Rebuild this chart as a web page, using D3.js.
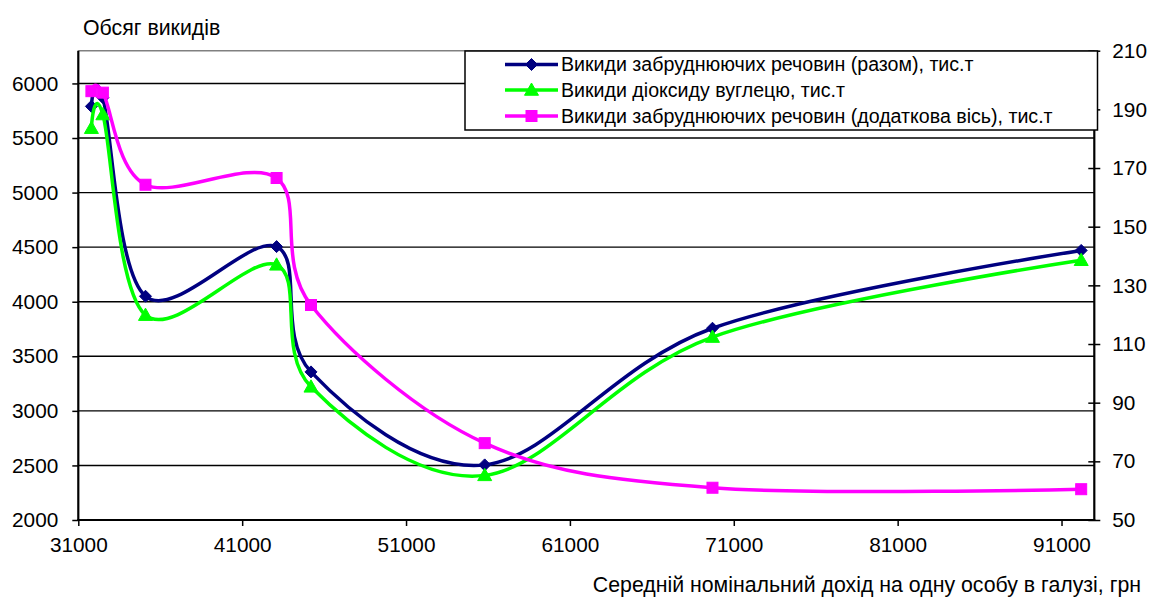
<!DOCTYPE html>
<html>
<head>
<meta charset="utf-8">
<script src="https://cdn.jsdelivr.net/npm/d3@7"></script>
<style>
  html, body { margin: 0; padding: 0; background: #fff; }
  svg { display: block; }
  text { font-family: "Liberation Sans", Arial, sans-serif; fill: #000; }
</style>
</head>
<body>
<svg id="chart" width="1149" height="597"></svg>
<script>
// ---- data ----
const income = [31800, 32500, 35100, 43100, 45200, 55800, 69700, 92200];
const pollutantsTotal = [5790, 5870, 4050, 4505, 3357, 2505, 3757, 4470];
const co2 = [5590, 5715, 3877, 4338, 3220, 2409, 3676, 4380];
const pollutantsSecondary = [196.2, 195.7, 164.3, 166.6, 123.3, 76.2, 61.0, 60.5];

const xTicks = [31000, 41000, 51000, 61000, 71000, 81000, 91000];
const yLeftTicks = [2000, 2500, 3000, 3500, 4000, 4500, 5000, 5500, 6000];
const yRightTicks = [50, 70, 90, 110, 130, 150, 170, 190, 210];

const seriesNames = [
  "Викиди забруднюючих речовин (разом), тис.т",
  "Викиди діоксиду вуглецю, тис.т",
  "Викиди забруднюючих речовин (додаткова вісь), тис.т"
];
const yTitle = "Обсяг викидів";
const xTitle = "Середній номінальний дохід на одну особу в галузі, грн";

// ---- layout ----
const L = 78.3, R = 1094.3, T = 50.7, B = 520;
const svg = d3.select("#chart");

const x = d3.scaleLinear().domain([31000, 93000]).range([L, R]);
const yL = d3.scaleLinear().domain([2000, 6300]).range([B, T]);
const yR = d3.scaleLinear().domain([50, 210]).range([B, T]);

// plot top border (gray)
svg.append("line").attr("x1", L).attr("x2", R).attr("y1", T).attr("y2", T)
  .attr("stroke", "#808080").attr("stroke-width", 1.5);

// gridlines
svg.append("g").selectAll("line").data(yLeftTicks.filter(d => d > 2000)).join("line")
  .attr("x1", L).attr("x2", R)
  .attr("y1", d => yL(d)).attr("y2", d => yL(d))
  .attr("stroke", "#000").attr("stroke-width", 1.4);

// axes
const axL = svg.append("g").attr("transform", `translate(${L},0)`)
  .call(d3.axisLeft(yL).tickValues(yLeftTicks).tickSize(6).tickPadding(14).tickFormat(d3.format("d")));
const axR = svg.append("g").attr("transform", `translate(${R},0)`)
  .call(d3.axisRight(yR).tickValues(yRightTicks).tickSize(6).tickPadding(12).tickFormat(d3.format("d")));
axR.selectAll(".tick line").attr("x1", -6);
const axB = svg.append("g").attr("transform", `translate(0,${B})`)
  .call(d3.axisBottom(x).tickValues(xTicks).tickSize(6).tickPadding(11).tickFormat(d3.format("d")));

[axL, axR, axB].forEach(a => {
  a.select(".domain").remove();
  a.selectAll(".tick line").attr("stroke", "#000").attr("stroke-width", 1.5);
  a.selectAll("text").style("font-size", "20.8px").style("font-family", '"Liberation Sans", Arial, sans-serif');
});
// axis lines
svg.append("line").attr("x1", L).attr("x2", L).attr("y1", T).attr("y2", B + 1).attr("stroke", "#000").attr("stroke-width", 2.2);
svg.append("line").attr("x1", R).attr("x2", R).attr("y1", T).attr("y2", B + 1).attr("stroke", "#000").attr("stroke-width", 2.2);
svg.append("line").attr("x1", L - 1).attr("x2", R + 1).attr("y1", B).attr("y2", B).attr("stroke", "#000").attr("stroke-width", 2.2);

// series
const curve = d3.curveCardinal.tension(0);
const series = [
  { vals: pollutantsTotal, y: yL, color: "#000080", marker: "diamond" },
  { vals: co2, y: yL, color: "#00FF00", marker: "triangle" },
  { vals: pollutantsSecondary, y: yR, color: "#FF00FF", marker: "square" }
];

function drawMarker(g, type, cx, cy, color) {
  if (type === "diamond") {
    const s = 6;
    g.append("path").attr("d", `M${cx},${cy - s}L${cx + s},${cy}L${cx},${cy + s}L${cx - s},${cy}Z`)
      .attr("fill", color).attr("stroke", color).attr("stroke-width", 1);
  } else if (type === "triangle") {
    const s = 7;
    g.append("path").attr("d", `M${cx},${cy - s}L${cx + s},${cy + s * 0.75}L${cx - s},${cy + s * 0.75}Z`)
      .attr("fill", color).attr("stroke", color).attr("stroke-width", 1);
  } else {
    const s = 5.5;
    g.append("rect").attr("x", cx - s).attr("y", cy - s).attr("width", 2 * s).attr("height", 2 * s)
      .attr("fill", color).attr("stroke", color).attr("stroke-width", 1);
  }
}

series.forEach(s => {
  const pts = income.map((v, i) => [x(v), s.y(s.vals[i])]);
  const g = svg.append("g");
  g.append("path").attr("d", d3.line().curve(curve)(pts))
    .attr("fill", "none").attr("stroke", s.color).attr("stroke-width", 3.5);
  pts.forEach(p => drawMarker(g, s.marker, p[0], p[1], s.color));
});

// legend
const lg = svg.append("g");
lg.append("rect").attr("x", 465).attr("y", 51).attr("width", 632.5).attr("height", 79)
  .attr("fill", "#fff").attr("stroke", "#000").attr("stroke-width", 1.5);
const rowsY = [64.5, 90, 116];
seriesNames.forEach((name, i) => {
  const yy = rowsY[i];
  lg.append("line").attr("x1", 505).attr("x2", 558).attr("y1", yy).attr("y2", yy)
    .attr("stroke", series[i].color).attr("stroke-width", 3.5);
  drawMarker(lg, series[i].marker, 531.5, yy, series[i].color);
  lg.append("text").attr("x", 561).attr("y", yy).attr("dy", "0.35em")
    .style("font-size", "19.6px").text(name);
});

// titles
svg.append("text").attr("x", 83).attr("y", 34.5).style("font-size", "21.3px").text(yTitle);
svg.append("text").attr("x", 1141).attr("y", 592).attr("text-anchor", "end")
  .style("font-size", "21.3px").text(xTitle);
</script>
</body>
</html>
